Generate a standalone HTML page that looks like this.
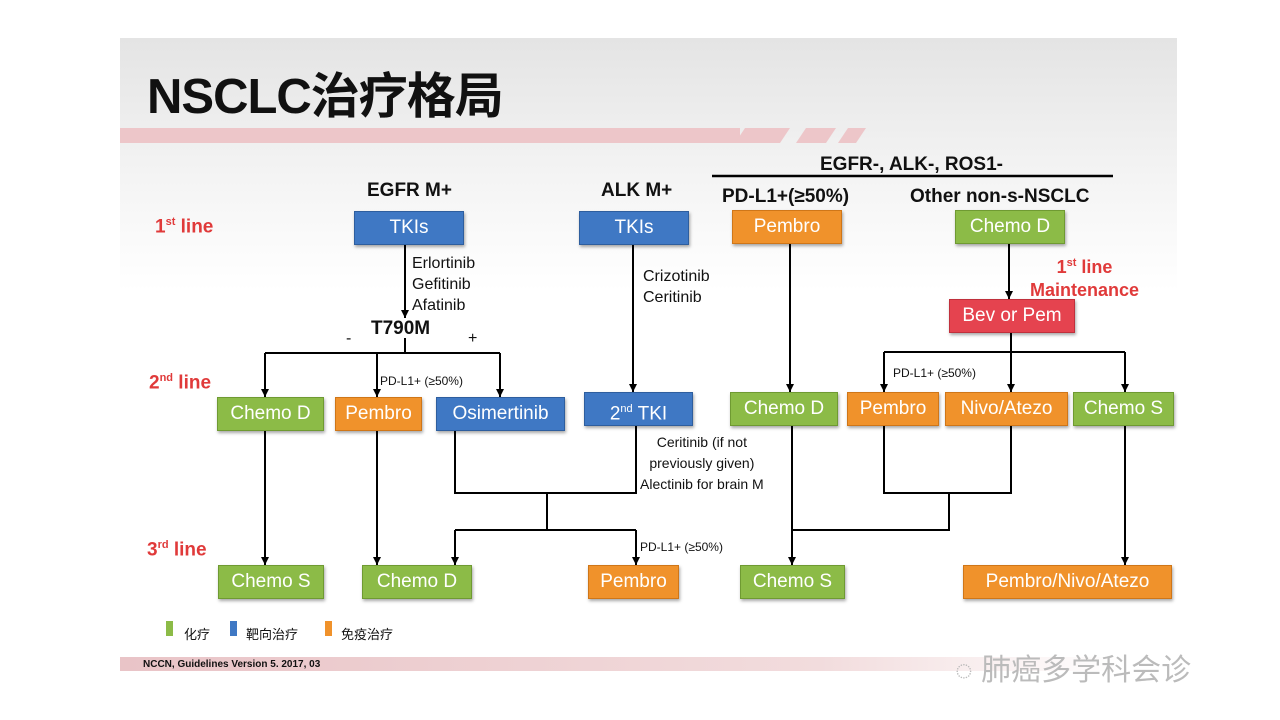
<!DOCTYPE html>
<html><head><meta charset="utf-8"><style>
body{margin:0;width:1280px;height:720px;background:#fff;position:relative;overflow:hidden;font-family:"Liberation Sans","Noto Sans CJK SC",sans-serif}
.slide{position:absolute;left:120px;top:38px;width:1057px;height:634px;background:linear-gradient(#e4e4e4,#f6f6f6 25%,#fff 40%)}
.b{position:absolute;color:#fff;font-size:19px;text-align:center;line-height:32px;height:32px;box-shadow:1px 2px 3px rgba(0,0,0,.35)}
.bl{background:#3f78c4;border:1px solid #2e5e9e}
.g{background:#8cbb47;border:1px solid #6f9a32}
.o{background:#f0922b;border:1px solid #cf7618}
.r{background:#e5434f;border:1px solid #c0303c}
.t{position:absolute;font-size:16px;color:#111;white-space:nowrap}
.red{color:#e03a3a;font-weight:bold;font-size:19px}
.s{font-size:12px}
.h{font-weight:bold;font-size:19px}
sup{font-size:11px}
</style></head><body>
<div class="slide"></div>
<div style="position:absolute;left:120px;top:128px;width:620px;height:15px;background:#edc6c9"></div>
<svg style="position:absolute;left:0;top:0" width="1280" height="720">
<polygon points="745,128 790,128 780,143 735,143" fill="#edc6c9"/>
<polygon points="806,128 836,128 826,143 796,143" fill="#edc6c9"/>
<polygon points="848,128 866,128 856,143 838,143" fill="#edc6c9"/>
<defs><marker id="a" markerWidth="9" markerHeight="9" refX="8" refY="4" orient="auto" markerUnits="userSpaceOnUse"><path d="M0,0 L8,4 L0,8z" fill="#000"/></marker>
<linearGradient id="fg" x1="0" x2="1"><stop offset="0" stop-color="#e9c4c7"/><stop offset="0.7" stop-color="#f2dcdd"/><stop offset="1" stop-color="#fff"/></linearGradient></defs>
<rect x="120" y="657" width="1000" height="14" fill="url(#fg)"/>
<line x1="712" y1="176" x2="1113" y2="176" stroke="#000" stroke-width="2.5"/>
<g stroke="#000" stroke-width="2" fill="none">
<line x1="405" y1="243" x2="405" y2="318" marker-end="url(#a)"/>
<polyline points="405,338 405,353"/><line x1="265" y1="353" x2="500" y2="353"/>
<line x1="265" y1="353" x2="265" y2="397" marker-end="url(#a)"/>
<line x1="377" y1="353" x2="377" y2="397" marker-end="url(#a)"/>
<line x1="500" y1="353" x2="500" y2="397" marker-end="url(#a)"/>
<line x1="633" y1="243" x2="633" y2="392" marker-end="url(#a)"/>
<line x1="790" y1="242" x2="790" y2="392" marker-end="url(#a)"/>
<line x1="1009" y1="242" x2="1009" y2="299" marker-end="url(#a)"/>
<polyline points="1011,331 1011,352"/><line x1="884" y1="352" x2="1125" y2="352"/>
<line x1="884" y1="352" x2="884" y2="392" marker-end="url(#a)"/>
<line x1="1011" y1="352" x2="1011" y2="392" marker-end="url(#a)"/>
<line x1="1125" y1="352" x2="1125" y2="392" marker-end="url(#a)"/>
<line x1="265" y1="429" x2="265" y2="565" marker-end="url(#a)"/>
<line x1="377" y1="429" x2="377" y2="565" marker-end="url(#a)"/>
<polyline points="455,429 455,493 636,493 636,424"/>
<line x1="547" y1="493" x2="547" y2="530"/><line x1="455" y1="530" x2="636" y2="530"/>
<line x1="455" y1="530" x2="455" y2="565" marker-end="url(#a)"/>
<line x1="636" y1="530" x2="636" y2="565" marker-end="url(#a)"/>
<line x1="792" y1="424" x2="792" y2="565" marker-end="url(#a)"/>
<polyline points="884,424 884,493 1011,493 1011,424"/>
<polyline points="949,493 949,530 792,530"/>
<line x1="1125" y1="424" x2="1125" y2="565" marker-end="url(#a)"/>
</g>
</svg>
<div class="t" style="left:147px;top:57px;font-size:49px;font-weight:bold;letter-spacing:-1px">NSCLC治疗格局</div>
<div class="t red" style="left:155px;top:216px">1<sup>st</sup> line</div>
<div class="t red" style="left:149px;top:372px">2<sup>nd</sup> line</div>
<div class="t red" style="left:147px;top:539px">3<sup>rd</sup> line</div>
<div class="t h" style="left:367px;top:180px">EGFR M+</div>
<div class="t h" style="left:601px;top:180px">ALK M+</div>
<div class="t h" style="left:820px;top:154px">EGFR-, ALK-, ROS1-</div>
<div class="t h" style="left:722px;top:186px">PD-L1+(≥50%)</div>
<div class="t h" style="left:910px;top:186px">Other non-s-NSCLC</div>
<div class="b bl" style="left:354px;top:211px;width:108px">TKIs</div>
<div class="b bl" style="left:579px;top:211px;width:108px">TKIs</div>
<div class="b o" style="left:732px;top:210px;width:108px">Pembro</div>
<div class="b g" style="left:955px;top:210px;width:108px">Chemo D</div>
<div class="t" style="left:412px;top:253px;line-height:21px">Erlortinib<br>Gefitinib<br>Afatinib</div>
<div class="t" style="left:643px;top:266px;line-height:21px">Crizotinib<br>Ceritinib</div>
<div class="t red" style="left:1030px;top:252px;font-size:18px;line-height:23px;text-align:center">1<sup>st</sup> line<br>Maintenance</div>
<div class="b r" style="left:949px;top:299px;width:124px">Bev or Pem</div>
<div class="t h" style="left:371px;top:318px">T790M</div>
<div class="t" style="left:346px;top:330px">-</div>
<div class="t" style="left:468px;top:330px">+</div>
<div class="t s" style="left:380px;top:374px">PD-L1+ (≥50%)</div>
<div class="t s" style="left:893px;top:366px">PD-L1+ (≥50%)</div>
<div class="b g" style="left:217px;top:397px;width:105px">Chemo D</div>
<div class="b o" style="left:335px;top:397px;width:85px">Pembro</div>
<div class="b bl" style="left:436px;top:397px;width:127px">Osimertinib</div>
<div class="b bl" style="left:584px;top:392px;width:107px">2<sup>nd</sup> TKI</div>
<div class="b g" style="left:730px;top:392px;width:106px">Chemo D</div>
<div class="b o" style="left:847px;top:392px;width:90px">Pembro</div>
<div class="b o" style="left:945px;top:392px;width:121px">Nivo/Atezo</div>
<div class="b g" style="left:1073px;top:392px;width:99px">Chemo S</div>
<div class="t" style="left:640px;top:432px;font-size:14px;line-height:21px;text-align:center">Ceritinib (if not<br>previously given)<br>Alectinib for brain M</div>
<div class="t s" style="left:640px;top:540px">PD-L1+ (≥50%)</div>
<div class="b g" style="left:218px;top:565px;width:104px">Chemo S</div>
<div class="b g" style="left:362px;top:565px;width:108px">Chemo D</div>
<div class="b o" style="left:588px;top:565px;width:89px">Pembro</div>
<div class="b g" style="left:740px;top:565px;width:103px">Chemo S</div>
<div class="b o" style="left:963px;top:565px;width:207px">Pembro/Nivo/Atezo</div>
<div style="position:absolute;left:166px;top:621px;width:7px;height:15px;background:#8cbb47"></div>
<div class="t" style="left:184px;top:624px;font-size:13px">化疗</div>
<div style="position:absolute;left:230px;top:621px;width:7px;height:15px;background:#3f78c4"></div>
<div class="t" style="left:246px;top:624px;font-size:13px">靶向治疗</div>
<div style="position:absolute;left:325px;top:621px;width:7px;height:15px;background:#f0922b"></div>
<div class="t" style="left:341px;top:624px;font-size:13px">免疫治疗</div>
<div class="t" style="left:143px;top:659px;font-size:10px;font-weight:bold">NCCN, Guidelines Version 5. 2017, 03</div>
<div class="t" style="left:955px;top:645px;font-size:30px;color:#bbb">◌ 肺癌多学科会诊</div>
</body></html>
